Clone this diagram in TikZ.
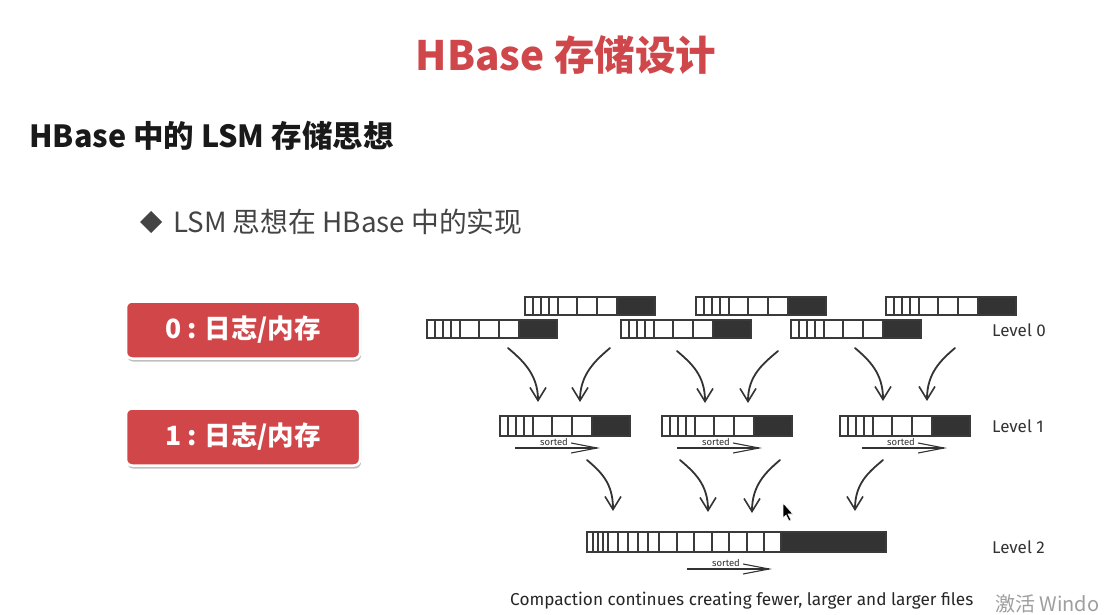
\documentclass[tikz,border=0pt]{standalone}
\usepackage{fontspec}
\newfontfamily\cjk{Noto Sans CJK SC}
\newfontfamily\hand{Fira Sans}
\usetikzlibrary{arrows.meta,shadows,calc}

\definecolor{titlered}{HTML}{D0474B}
\definecolor{boxred}{HTML}{D14649}
\definecolor{ink}{HTML}{333333}
\definecolor{cellink}{HTML}{3A3A3A}
\definecolor{darkfill}{HTML}{333333}
\definecolor{bullettext}{HTML}{444444}

\tikzset{
  cell/.style={draw=cellink, line width=1.5pt, fill=white},
  darkcell/.style={fill=darkfill, draw=cellink, line width=1.5pt},
  flow/.style={draw=ink, line width=1.8pt, line cap=round,
    -{Straight Barb[length=13pt,width=16pt,line width=1.6pt]}},
  sortarrow/.style={draw=ink, line width=1.1pt,
    -{Straight Barb[length=26pt,width=10pt,line width=1.1pt]}},
  redbox/.style={fill=boxred, draw=white, line width=2.5pt, rounded corners=6pt,
    minimum width=234pt, minimum height=57pt, text=white,
    font=\cjk\bfseries\fontsize{26.5}{26.5}\selectfont,
    drop shadow={shadow xshift=1pt, shadow yshift=-3pt, opacity=0.25, fill=black}},
  lvl/.style={font=\hand\fontsize{17}{17}\selectfont, text=ink, anchor=west, inner sep=0pt},
  sorttxt/.style={font=\hand\fontsize{9.5}{9.5}\selectfont, text=ink, inner sep=0pt},
}

% a small sorted file: name, left x, top y, height
\newcommand\smallfile[4]{%
  \coordinate (#1) at (#2,#3);
  \begin{scope}[shift={(#2,#3)}]
    \foreach \a/\b in {0/8,8/16,16/24,24/33,33/52,52/72,72/92}
      \draw[cell] (\a,0) rectangle (\b,#4);
    \draw[darkcell] (92,0) rectangle (130,#4);
  \end{scope}}

% the merged level 2 file: name, left x, top y
\newcommand\bigfile[3]{%
  \coordinate (#1) at (#2,#3);
  \begin{scope}[shift={(#2,#3)}]
    \foreach \a/\b in {0/6,6/11,11/16,16/21,21/31,31/41,41/51,51/61,61/72,72/90,
                       90/107,107/125,125/142,142/160,160/177,177/194}
      \draw[cell] (\a,0) rectangle (\b,20);
    \draw[darkcell] (194,0) rectangle (299,20);
  \end{scope}}

% "sorted" arrow under a file: name, x start, x end, y
\newcommand\sortedarrow[4]{%
  \coordinate (#1s) at (#2,#4);
  \coordinate (#1e) at (#3,#4);
  \draw[sortarrow] (#1s) -- (#1e);
  \node[sorttxt] (#1t) at ($(#1s)+(39,-6)$) {sorted};}

\begin{document}
\begin{tikzpicture}[x=1pt,y=-1pt]
\useasboundingbox (0,0) rectangle (1104,615);
\fill[white] (0,0) rectangle (1104,615);

% headings
\node[font=\cjk\bfseries\fontsize{40.5}{40.5}\selectfont, text=titlered, inner sep=0pt]
  (title) at (566,55) {HBase 存储设计};
\node[anchor=west, font=\cjk\bfseries\fontsize{30.5}{30.5}\selectfont, text=black!90, inner sep=0pt]
  (sub) at (29,136) {HBase 中的 LSM 存储思想};
\fill[bullettext] (151,211) -- (162,222) -- (151,233) -- (140,222) -- cycle;
\node[anchor=west, font=\cjk\fontsize{27.8}{27.8}\selectfont, text=bullettext, inner sep=0pt]
  (bullet) at (173,222) {LSM 思想在 HBase 中的实现};

% red labels
\node[redbox] (log0) at (243,330) {0 : 日志/内存};
\node[redbox] (log1) at (243,437) {1 : 日志/内存};

% level 0 files
\smallfile{f0a}{525}{297}{18}
\smallfile{f0b}{696}{297}{18}
\smallfile{f0c}{886}{297}{18}
\smallfile{f0d}{427}{320}{18}
\smallfile{f0e}{621}{320}{18}
\smallfile{f0f}{791}{320}{18}

% level 1 files
\smallfile{f1a}{500}{416}{20}
\smallfile{f1b}{662}{416}{20}
\smallfile{f1c}{840}{416}{20}
\sortedarrow{s1a}{515}{600}{448}
\sortedarrow{s1b}{677}{762}{448}
\sortedarrow{s1c}{862}{947}{448}

% level 2 file
\bigfile{f2}{587}{532}
\sortedarrow{s2}{687}{772}{569}

% level labels
\node[lvl] (l0) at (992,330) {Level 0};
\node[lvl] (l1) at (992,426) {Level 1};
\node[lvl] (l2) at (992,547) {Level 2};

% compaction arrows: level 0 -> level 1
\coordinate (a1s) at (508,348); \coordinate (a1t) at (538,402);
\coordinate (a2s) at (610,348); \coordinate (a2t) at (580,402);
\coordinate (a3s) at (677,351); \coordinate (a3t) at (705,403);
\coordinate (a4s) at (778,351); \coordinate (a4t) at (748,403);
\coordinate (a5s) at (855,348); \coordinate (a5t) at (883,401);
\coordinate (a6s) at (955,348); \coordinate (a6t) at (927,401);
% compaction arrows: level 1 -> level 2
\coordinate (b1s) at (587,460); \coordinate (b1t) at (613,511);
\coordinate (b2s) at (680,460); \coordinate (b2t) at (708,512);
\coordinate (b3s) at (780,460); \coordinate (b3t) at (752,513);
\coordinate (b4s) at (883,460); \coordinate (b4t) at (855,511);

\foreach \p in {a1,a3,a5,b1,b2}
  \draw[flow] (\p s) .. controls ($(\p s)+(14,12)$) and ($(\p t)+(0,-28)$) .. (\p t);
\foreach \p in {a2,a4,a6,b3,b4}
  \draw[flow] (\p s) .. controls ($(\p s)+(-14,12)$) and ($(\p t)+(0,-28)$) .. (\p t);

% caption
\node[font=\hand\fontsize{17.2}{17.2}\selectfont, text=black!85, inner sep=0pt, anchor=west]
  (caption) at (510,601) {Compaction continues creating fewer, larger and larger files};

% screen overlay
\node[font=\cjk\fontsize{20}{20}\selectfont, text=black!38, inner sep=0pt, anchor=west]
  (mark) at (995,604) {激活 Windo};
\filldraw[fill=black, draw=white, line width=0.6pt]
  (783,503) -- (783,518) -- (786,515) -- (789,521) -- (791,520) -- (788,514) -- (793,514) -- cycle;
\end{tikzpicture}
\end{document}
